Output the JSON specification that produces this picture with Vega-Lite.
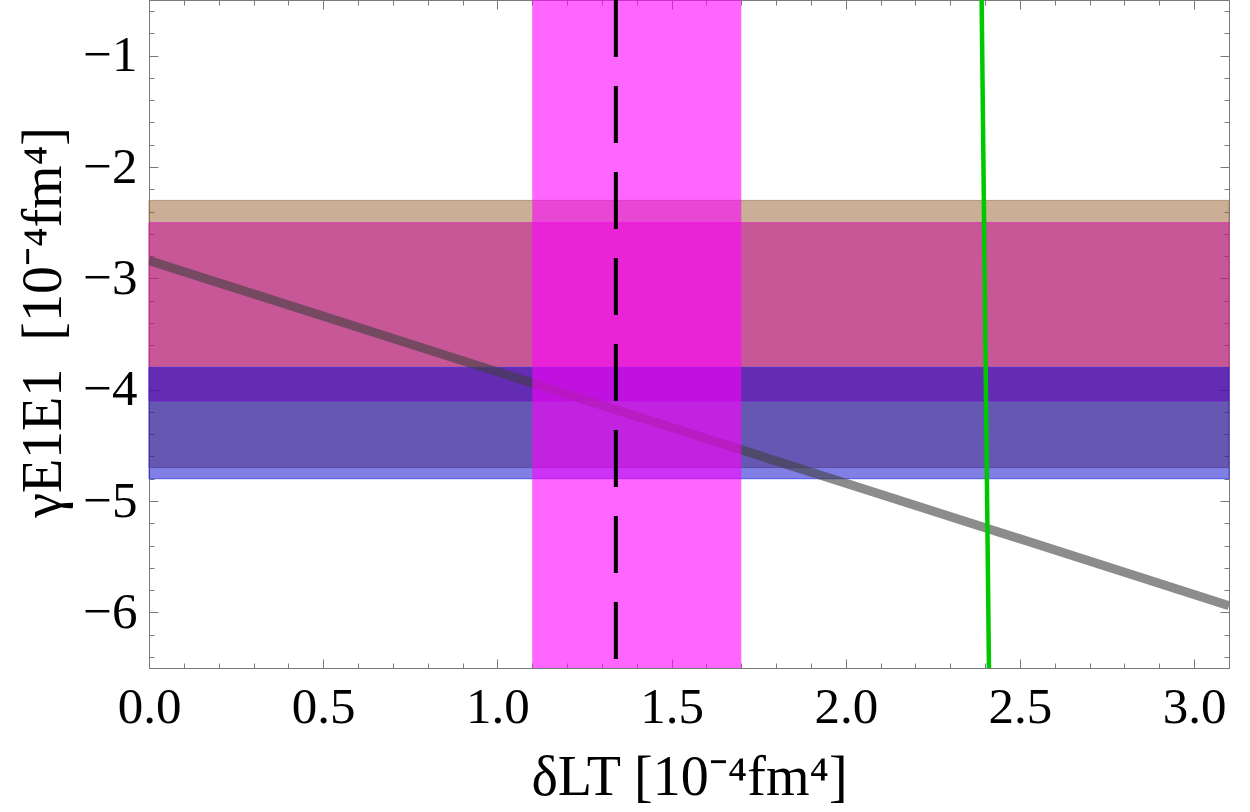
{
  "$schema": "https://vega.github.io/schema/vega-lite/v6.json",
  "width": 1080,
  "height": 668,
  "autosize": {"type": "none"},
  "padding": {"left": 149, "top": 0, "right": 21, "bottom": 144},
  "background": "white",
  "view": {"stroke": "#7a7a7a", "strokeWidth": 1},
  "config": {
    "axis": {
      "labelFont": "Liberation Serif",
      "titleFont": "Liberation Serif",
      "labelColor": "black",
      "titleColor": "black",
      "labelFontSize": 51,
      "titleFontSize": 56,
      "titleFontWeight": "normal",
      "tickColor": "#7a7a7a",
      "tickWidth": 1,
      "domain": false,
      "grid": false,
      "zindex": 1,
      "labelFlush": false,
      "labelOverlap": false
    }
  },
  "datasets": {
    "bands": [
      {"band": "tan", "hi": -2.3, "lo": -4.7},
      {"band": "pink", "hi": -2.5, "lo": -4.1},
      {"band": "blue", "hi": -3.8, "lo": -4.8}
    ],
    "fit": [
      {"x": 0, "y": -2.84},
      {"x": 3.1, "y": -5.94}
    ],
    "delta": [
      {"lo": 1.1, "hi": 1.7, "central": 1.34}
    ],
    "bound": [
      {"x": 2.39, "y": -0.5},
      {"x": 2.411, "y": -6.5}
    ]
  },
  "resolve": {"axis": {"x": "independent", "y": "independent"}},
  "layer": [
    {
      "data": {"name": "bands"},
      "mark": {"type": "rect", "fillOpacity": 0.5, "strokeOpacity": 0.7, "strokeWidth": 1},
      "encoding": {
        "x": {"datum": 0, "type": "quantitative", "scale": {"domain": [0, 3.1], "nice": false, "zero": false}, "axis": null},
        "x2": {"datum": 3.1},
        "y": {
          "field": "hi", "type": "quantitative",
          "scale": {"domain": [-6.5, -0.5], "nice": false, "zero": false},
          "axis": {
            "orient": "left",
            "values": [-6, -5, -4, -3, -2, -1],
            "format": "d",
            "tickSize": -9,
            "labelPadding": 21,
            "title": "γE1E1\u00a0 [10⁻⁴fm⁴]",
            "titleX": -77,
            "titleY": 322
          }
        },
        "y2": {"field": "lo"},
        "color": {
          "field": "band", "type": "nominal",
          "scale": {"domain": ["tan", "pink", "blue"], "range": ["#975D2D", "#C6009A", "#0000CD"]},
          "legend": null
        },
        "stroke": {
          "field": "band", "type": "nominal",
          "scale": {"domain": ["tan", "pink", "blue"], "range": ["#A07850", "#E020C0", "#3030E0"]},
          "legend": null
        }
      }
    },
    {
      "data": {"name": "fit"},
      "mark": {"type": "line", "color": "#404040", "opacity": 0.6, "strokeWidth": 9, "strokeCap": "butt", "clip": true},
      "encoding": {
        "x": {
          "field": "x", "type": "quantitative",
          "scale": {"domain": [0, 3.1], "nice": false, "zero": false},
          "axis": {
            "orient": "bottom",
            "values": [0, 0.5, 1, 1.5, 2, 2.5, 3],
            "format": ".1f",
            "tickSize": -9,
            "labelPadding": 23,
            "title": "δLT [10⁻⁴fm⁴]",
            "titlePadding": 18
          }
        },
        "y": {
          "field": "y", "type": "quantitative",
          "scale": {"domain": [-6.5, -0.5], "nice": false, "zero": false},
          "axis": {
            "orient": "left",
            "values": [-6.4, -6.2, -6, -5.8, -5.6, -5.4, -5.2, -5, -4.8, -4.6, -4.4, -4.2, -4, -3.8, -3.6, -3.4, -3.2, -3, -2.8, -2.6, -2.4, -2.2, -2, -1.8, -1.6, -1.4, -1.2, -1, -0.8, -0.6],
            "labels": false,
            "tickSize": -5,
            "title": null
          }
        }
      }
    },
    {
      "data": {"name": "delta"},
      "mark": {"type": "rect", "color": "#FF00FF", "opacity": 0.6},
      "encoding": {
        "x": {
          "field": "lo", "type": "quantitative",
          "scale": {"domain": [0, 3.1], "nice": false, "zero": false},
          "axis": {
            "orient": "bottom",
            "values": [0, 0.1, 0.2, 0.3, 0.4, 0.5, 0.6, 0.7, 0.8, 0.9, 1, 1.1, 1.2, 1.3, 1.4, 1.5, 1.6, 1.7, 1.8, 1.9, 2, 2.1, 2.2, 2.3, 2.4, 2.5, 2.6, 2.7, 2.8, 2.9, 3, 3.1],
            "labels": false,
            "tickSize": -5,
            "title": null
          }
        },
        "x2": {"field": "hi"},
        "y": {"datum": -0.5, "type": "quantitative", "scale": {"domain": [-6.5, -0.5], "nice": false, "zero": false}, "axis": null},
        "y2": {"datum": -6.5}
      }
    },
    {
      "data": {"name": "delta"},
      "mark": {"type": "rule", "color": "black", "strokeWidth": 4, "strokeDash": [57, 29]},
      "encoding": {
        "x": {
          "field": "central", "type": "quantitative",
          "scale": {"domain": [0, 3.1], "nice": false, "zero": false},
          "axis": {
            "orient": "top",
            "values": [0, 0.5, 1, 1.5, 2, 2.5, 3],
            "labels": false,
            "tickSize": -9,
            "title": null
          }
        },
        "y": {
          "datum": -0.5, "type": "quantitative",
          "scale": {"domain": [-6.5, -0.5], "nice": false, "zero": false},
          "axis": {
            "orient": "right",
            "values": [-6, -5, -4, -3, -2, -1],
            "labels": false,
            "tickSize": -9,
            "title": null
          }
        },
        "y2": {"datum": -6.5}
      }
    },
    {
      "data": {"name": "bound"},
      "mark": {"type": "line", "color": "#00C800", "strokeWidth": 4.5, "clip": true},
      "encoding": {
        "x": {
          "field": "x", "type": "quantitative",
          "scale": {"domain": [0, 3.1], "nice": false, "zero": false},
          "axis": {
            "orient": "top",
            "values": [0, 0.1, 0.2, 0.3, 0.4, 0.5, 0.6, 0.7, 0.8, 0.9, 1, 1.1, 1.2, 1.3, 1.4, 1.5, 1.6, 1.7, 1.8, 1.9, 2, 2.1, 2.2, 2.3, 2.4, 2.5, 2.6, 2.7, 2.8, 2.9, 3, 3.1],
            "labels": false,
            "tickSize": -5,
            "title": null
          }
        },
        "y": {
          "field": "y", "type": "quantitative",
          "scale": {"domain": [-6.5, -0.5], "nice": false, "zero": false},
          "axis": {
            "orient": "right",
            "values": [-6.4, -6.2, -6, -5.8, -5.6, -5.4, -5.2, -5, -4.8, -4.6, -4.4, -4.2, -4, -3.8, -3.6, -3.4, -3.2, -3, -2.8, -2.6, -2.4, -2.2, -2, -1.8, -1.6, -1.4, -1.2, -1, -0.8, -0.6],
            "labels": false,
            "tickSize": -5,
            "title": null
          }
        }
      }
    }
  ]
}
